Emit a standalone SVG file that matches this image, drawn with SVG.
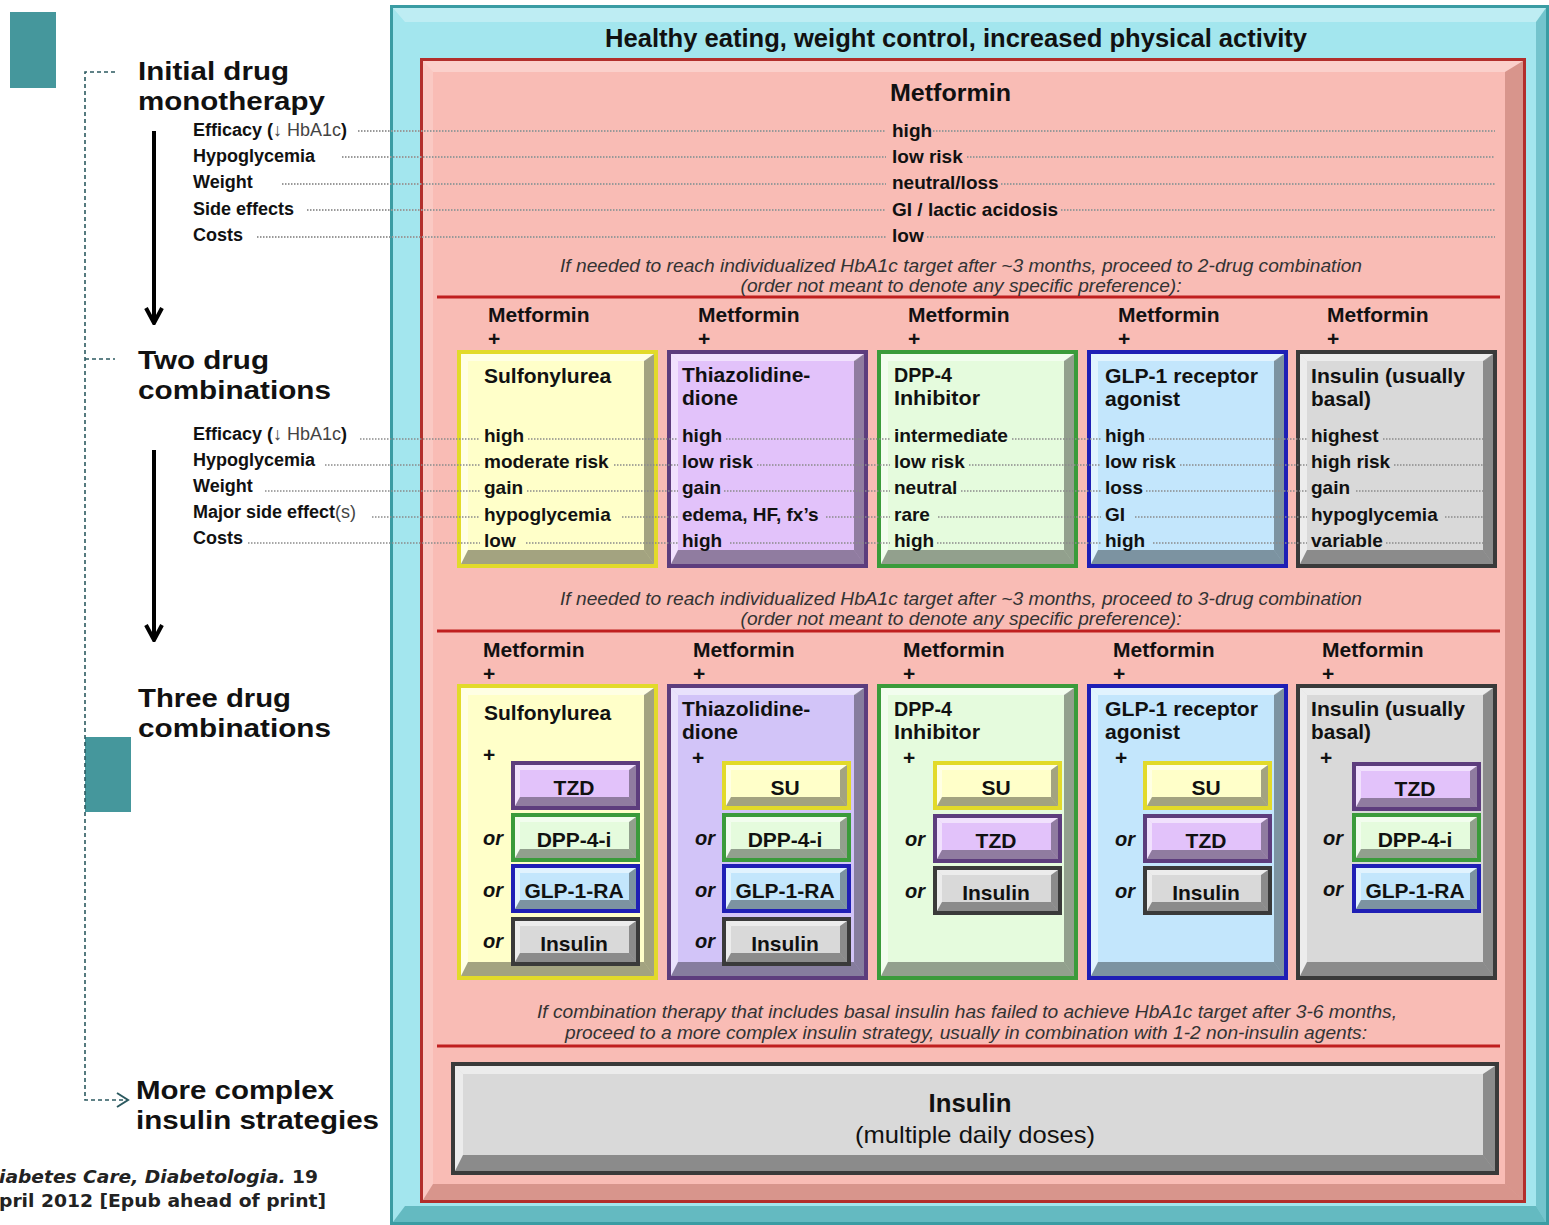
<svg xmlns="http://www.w3.org/2000/svg" width="1549" height="1225" viewBox="0 0 1549 1225">
<style>
.t{font-family:"Liberation Sans",Arial,sans-serif;fill:#111}
.h1{font-size:26px;font-weight:bold}
.lab{font-size:18px;font-weight:bold}
.lt{font-weight:normal;fill:#444}
.val{font-size:19px;font-weight:bold}
.met{font-size:21px;font-weight:bold}
.ttl{font-size:21px;font-weight:bold}
.note{font-size:19px;font-style:italic;fill:#333;text-anchor:middle}
.sub{font-size:21px;font-weight:bold;text-anchor:middle}
.or{font-size:20px;font-weight:bold;font-style:italic}
.box{stroke-width:4}
.cY{fill:#ffffc9;stroke:#e2da2a}
.cP{fill:#e2c2fa;stroke:#5d3d7d}
.cP3{fill:#d2c4f8;stroke:#5d3d7d}
.cG{fill:#e5fbdd;stroke:#3b9b3b}
.cB{fill:#c3e6fc;stroke:#1f1fb5}
.cK{fill:#d9d9d9;stroke:#3a3a3a}
.lite{fill:#fff;fill-opacity:.5}
.dark{fill:#000;fill-opacity:.36}
.dot{stroke:#8a8a8a;stroke-width:1.4;stroke-dasharray:1.5 1.5;fill:none}
.dotm{stroke:#999;stroke-width:1.8;stroke-dasharray:1.5 1.5;fill:none}
.sep{stroke:#c01f1f;stroke-width:3}
.dash{stroke:#2c5a60;stroke-width:1.6;stroke-dasharray:4 3;fill:none}
.blk{stroke:#000;stroke-width:4;fill:none}
</style>
<defs>
<marker id="ah" markerUnits="userSpaceOnUse" viewBox="-18 -11 20 22" refX="0" refY="0" markerWidth="20" markerHeight="22" orient="auto">
<path d="M-15,-8 L0,0 L-15,8" fill="none" stroke="#000" stroke-width="4"/>
</marker>
<marker id="ahd" markerUnits="userSpaceOnUse" viewBox="-14 -9 16 18" refX="0" refY="0" markerWidth="16" markerHeight="18" orient="auto">
<path d="M-11,-7 L0,0 L-11,7" fill="none" stroke="#2c5a60" stroke-width="2"/>
</marker>
<g id="bv2">
<polygon class="lite" points="2,2 195,2 187,9 9,9"/>
<polygon class="lite" points="2,2 9,9 9,198 2,212"/>
<polygon class="dark" points="195,2 195,212 185,198 185,9"/>
<polygon class="dark" points="2,212 195,212 185,198 9,198"/>
</g>
<g id="bv3">
<polygon class="lite" points="2,2 195,2 187,9 9,9"/>
<polygon class="lite" points="2,2 9,9 9,276 2,290"/>
<polygon class="dark" points="195,2 195,290 185,276 185,9"/>
<polygon class="dark" points="2,290 195,290 185,276 9,276"/>
</g>
<g id="bvs">
<polygon class="lite" points="2,2 123,2 116,7 7,7"/>
<polygon class="lite" points="2,2 7,7 7,34 2,43"/>
<polygon class="dark" points="123,2 123,43 116,34 116,7"/>
<polygon class="dark" points="2,43 123,43 116,34 7,34"/>
</g>
<g id="bvb">
<polygon class="lite" points="2,2 1042,2 1030,10 10,10"/>
<polygon class="lite" points="2,2 10,10 10,91 2,107"/>
<polygon class="dark" points="1042,2 1042,107 1030,91 1030,10"/>
<polygon class="dark" points="2,107 1042,107 1030,91 10,91"/>
</g>
</defs>

<rect width="1549" height="1225" fill="#fff"/>

<g id="side-markers">
<rect x="10" y="12" width="46" height="76" fill="#45979c"/>
<rect x="85" y="737" width="46" height="75" fill="#45979c"/>
</g>

<g id="background-panels">
<rect x="391.5" y="6.5" width="1156" height="1217" fill="#a3e6ee" stroke="#3a9ca3" stroke-width="3"/>
<polygon points="393,8 1546,8 1536,22 405,22" fill="#fff" fill-opacity=".3"/>
<polygon points="1546,8 1546,1222 1536,1206 1536,22" fill="#3a9ca3" fill-opacity=".45"/>
<polygon points="393,1222 1546,1222 1536,1206 405,1206" fill="#3a9ca3" fill-opacity=".6"/>
<rect x="421.5" y="59.5" width="1103" height="1142" fill="#f9bcb5" stroke="#b22f2c" stroke-width="3"/>
<polygon points="423,61 1523,61 1505,72 433,72" fill="#fff" fill-opacity=".3"/>
<polygon points="423,61 433,72 433,1184 423,1200" fill="#fff" fill-opacity=".2"/>
<polygon points="1523,61 1523,1200 1505,1184 1505,72" fill="#8a3a30" fill-opacity=".3"/>
<polygon points="423,1200 1523,1200 1505,1184 433,1184" fill="#8a3a30" fill-opacity=".3"/>
<text class="t" x="956" y="47" font-size="25" font-weight="bold" text-anchor="middle" textLength="702" lengthAdjust="spacingAndGlyphs">Healthy eating, weight control, increased physical activity</text>
<line class="sep" x1="437" y1="297" x2="1500" y2="297"/>
<line class="sep" x1="437" y1="631" x2="1500" y2="631"/>
<line class="sep" x1="437" y1="1046" x2="1500" y2="1046"/>
<text class="t note" x="961" y="272" textLength="802" lengthAdjust="spacingAndGlyphs">If needed to reach individualized HbA1c target after ~3 months, proceed to 2-drug combination</text>
<text class="t note" x="961" y="292" textLength="441" lengthAdjust="spacingAndGlyphs">(order not meant to denote any specific preference):</text>
<text class="t note" x="961" y="605" textLength="802" lengthAdjust="spacingAndGlyphs">If needed to reach individualized HbA1c target after ~3 months, proceed to 3-drug combination</text>
<text class="t note" x="961" y="625" textLength="441" lengthAdjust="spacingAndGlyphs">(order not meant to denote any specific preference):</text>
<text class="t note" x="967" y="1018" textLength="860" lengthAdjust="spacingAndGlyphs">If combination therapy that includes basal insulin has failed to achieve HbA1c target after 3-6 months,</text>
<text class="t note" x="966" y="1039" textLength="802" lengthAdjust="spacingAndGlyphs">proceed to a more complex insulin strategy, usually in combination with 1-2 non-insulin agents:</text>
</g>

<g id="connectors">
<path class="dash" d="M115,72 H85 V1100 H128" marker-end="url(#ahd)"/>
<line class="dash" x1="85" y1="359" x2="115" y2="359"/>
<line class="blk" x1="154" y1="131" x2="154" y2="323" marker-end="url(#ah)"/>
<line class="blk" x1="154" y1="450" x2="154" y2="640" marker-end="url(#ah)"/>
<path class="dotm" d="M358,131 H886 M933,131 H1495 M342,157 H886 M967,157 H1495 M282,184 H886 M1001,184 H1495 M307,210 H886 M1061,210 H1495 M257,237 H886 M927,237 H1495"/>
</g>

<g id="stage-labels">
<text class="t h1" x="138" y="80" textLength="151" lengthAdjust="spacingAndGlyphs">Initial drug</text>
<text class="t h1" x="138" y="110" textLength="187" lengthAdjust="spacingAndGlyphs">monotherapy</text>
<text class="t h1" x="138" y="369" textLength="131" lengthAdjust="spacingAndGlyphs">Two drug</text>
<text class="t h1" x="138" y="399" textLength="193" lengthAdjust="spacingAndGlyphs">combinations</text>
<text class="t h1" x="138" y="707" textLength="153" lengthAdjust="spacingAndGlyphs">Three drug</text>
<text class="t h1" x="138" y="737" textLength="193" lengthAdjust="spacingAndGlyphs">combinations</text>
<text class="t h1" x="136" y="1099" textLength="198" lengthAdjust="spacingAndGlyphs">More complex</text>
<text class="t h1" x="136" y="1129" textLength="243" lengthAdjust="spacingAndGlyphs">insulin strategies</text>
</g>

<g id="mono-criteria">
<text class="t lab" x="193" y="136">Efficacy (<tspan class="lt">↓ HbA1c</tspan>)</text>
<text class="t lab" x="193" y="162">Hypoglycemia</text>
<text class="t lab" x="193" y="188">Weight</text>
<text class="t lab" x="193" y="215">Side effects</text>
<text class="t lab" x="193" y="241">Costs</text>
</g>

<g id="metformin-mono">
<text class="t" x="890" y="101" font-size="24" font-weight="bold" textLength="121" lengthAdjust="spacingAndGlyphs">Metformin</text>
<text class="t val" x="892" y="137">high</text>
<text class="t val" x="892" y="163">low risk</text>
<text class="t val" x="892" y="189">neutral/loss</text>
<text class="t val" x="892" y="216" textLength="166" lengthAdjust="spacingAndGlyphs">GI / lactic acidosis</text>
<text class="t val" x="892" y="242">low</text>
</g>

<g id="two-drug-criteria">
<text class="t lab" x="193" y="440">Efficacy (<tspan class="lt">↓ HbA1c</tspan>)</text>
<text class="t lab" x="193" y="466">Hypoglycemia</text>
<text class="t lab" x="193" y="492">Weight</text>
<text class="t lab" x="193" y="518">Major side effect<tspan class="lt">(s)</tspan></text>
<text class="t lab" x="193" y="544">Costs</text>
</g>

<g id="two-drug-su">
<text class="t met" x="488" y="322">Metformin</text>
<text class="t met" x="488" y="346">+</text>
<rect class="box cY" x="459" y="352" width="197" height="214"/>
<use href="#bv2" x="459" y="352"/>
<text class="t ttl" x="484" y="383">Sulfonylurea</text>
<text class="t val" x="484" y="442">high</text>
<text class="t val" x="484" y="468">moderate risk</text>
<text class="t val" x="484" y="494">gain</text>
<text class="t val" x="484" y="521">hypoglycemia</text>
<text class="t val" x="484" y="547">low</text>
</g>

<g id="two-drug-tzd">
<text class="t met" x="698" y="322">Metformin</text>
<text class="t met" x="698" y="346">+</text>
<rect class="box cP" x="669" y="352" width="197" height="214"/>
<use href="#bv2" x="669" y="352"/>
<text class="t ttl" x="682" y="382">Thiazolidine-</text>
<text class="t ttl" x="682" y="405">dione</text>
<text class="t val" x="682" y="442">high</text>
<text class="t val" x="682" y="468">low risk</text>
<text class="t val" x="682" y="494">gain</text>
<text class="t val" x="682" y="521">edema, HF, fx’s</text>
<text class="t val" x="682" y="547">high</text>
</g>

<g id="two-drug-dpp4">
<text class="t met" x="908" y="322">Metformin</text>
<text class="t met" x="908" y="346">+</text>
<rect class="box cG" x="879" y="352" width="197" height="214"/>
<use href="#bv2" x="879" y="352"/>
<text class="t ttl" x="894" y="382" textLength="58" lengthAdjust="spacingAndGlyphs">DPP-4</text>
<text class="t ttl" x="894" y="405" textLength="86" lengthAdjust="spacingAndGlyphs">Inhibitor</text>
<text class="t val" x="894" y="442" textLength="114" lengthAdjust="spacingAndGlyphs">intermediate</text>
<text class="t val" x="894" y="468">low risk</text>
<text class="t val" x="894" y="494">neutral</text>
<text class="t val" x="894" y="521">rare</text>
<text class="t val" x="894" y="547">high</text>
</g>

<g id="two-drug-glp1">
<text class="t met" x="1118" y="322">Metformin</text>
<text class="t met" x="1118" y="346">+</text>
<rect class="box cB" x="1089" y="352" width="197" height="214"/>
<use href="#bv2" x="1089" y="352"/>
<text class="t ttl" x="1105" y="383" textLength="153" lengthAdjust="spacingAndGlyphs">GLP-1 receptor</text>
<text class="t ttl" x="1105" y="406" textLength="75" lengthAdjust="spacingAndGlyphs">agonist</text>
<text class="t val" x="1105" y="442">high</text>
<text class="t val" x="1105" y="468">low risk</text>
<text class="t val" x="1105" y="494">loss</text>
<text class="t val" x="1105" y="521">GI</text>
<text class="t val" x="1105" y="547">high</text>
</g>

<g id="two-drug-insulin">
<text class="t met" x="1327" y="322">Metformin</text>
<text class="t met" x="1327" y="346">+</text>
<rect class="box cK" x="1298" y="352" width="197" height="214"/>
<use href="#bv2" x="1298" y="352"/>
<text class="t ttl" x="1311" y="383" textLength="154" lengthAdjust="spacingAndGlyphs">Insulin (usually</text>
<text class="t ttl" x="1311" y="406" textLength="60" lengthAdjust="spacingAndGlyphs">basal)</text>
<text class="t val" x="1311" y="442">highest</text>
<text class="t val" x="1311" y="468">high risk</text>
<text class="t val" x="1311" y="494">gain</text>
<text class="t val" x="1311" y="521">hypoglycemia</text>
<text class="t val" x="1311" y="547">variable</text>
</g>

<g id="two-drug-leaders">
<path class="dot" d="M360,439 H480 M528,439 H678 M726,439 H890 M1012,439 H1101 M1149,439 H1307 M1383,439 H1490 M325,465 H480 M614,465 H678 M757,465 H890 M969,465 H1101 M1180,465 H1307 M1394,465 H1490 M265,491 H480 M527,491 H678 M724,491 H890 M961,491 H1101 M1146,491 H1307 M1356,491 H1490 M372,517 H480 M622,517 H678 M826,517 H890 M938,517 H1101 M1135,517 H1307 M1445,517 H1490 M248,543 H480 M526,543 H678 M730,543 H890 M937,543 H1101 M1153,543 H1307 M1386,543 H1490"/>
</g>

<g id="three-drug-su">
<text class="t met" x="483" y="657">Metformin</text>
<text class="t met" x="483" y="681">+</text>
<rect class="box cY" x="459" y="686" width="197" height="292"/>
<use href="#bv3" x="459" y="686"/>
<text class="t ttl" x="484" y="720">Sulfonylurea</text>
<text class="t met" x="483" y="762">+</text>
<rect class="box cP" x="513" y="763" width="125" height="45"/><use href="#bvs" x="513" y="763"/>
<text class="t sub" x="574" y="795">TZD</text>
<rect class="box cG" x="513" y="815" width="125" height="45"/><use href="#bvs" x="513" y="815"/>
<text class="t sub" x="574" y="847">DPP-4-i</text>
<rect class="box cB" x="513" y="866" width="125" height="45"/><use href="#bvs" x="513" y="866"/>
<text class="t sub" x="574" y="898">GLP-1-RA</text>
<rect class="box cK" x="513" y="919" width="125" height="45"/><use href="#bvs" x="513" y="919"/>
<text class="t sub" x="574" y="951">Insulin</text>
<text class="t or" x="483" y="845">or</text>
<text class="t or" x="483" y="897">or</text>
<text class="t or" x="483" y="948">or</text>
</g>

<g id="three-drug-tzd">
<text class="t met" x="693" y="657">Metformin</text>
<text class="t met" x="693" y="681">+</text>
<rect class="box cP3" x="669" y="686" width="197" height="292"/>
<use href="#bv3" x="669" y="686"/>
<text class="t ttl" x="682" y="716">Thiazolidine-</text>
<text class="t ttl" x="682" y="739">dione</text>
<text class="t met" x="692" y="765">+</text>
<rect class="box cY" x="724" y="763" width="125" height="45"/><use href="#bvs" x="724" y="763"/>
<text class="t sub" x="785" y="795">SU</text>
<rect class="box cG" x="724" y="815" width="125" height="45"/><use href="#bvs" x="724" y="815"/>
<text class="t sub" x="785" y="847">DPP-4-i</text>
<rect class="box cB" x="724" y="866" width="125" height="45"/><use href="#bvs" x="724" y="866"/>
<text class="t sub" x="785" y="898">GLP-1-RA</text>
<rect class="box cK" x="724" y="919" width="125" height="45"/><use href="#bvs" x="724" y="919"/>
<text class="t sub" x="785" y="951">Insulin</text>
<text class="t or" x="695" y="845">or</text>
<text class="t or" x="695" y="897">or</text>
<text class="t or" x="695" y="948">or</text>
</g>

<g id="three-drug-dpp4">
<text class="t met" x="903" y="657">Metformin</text>
<text class="t met" x="903" y="681">+</text>
<rect class="box cG" x="879" y="686" width="197" height="292"/>
<use href="#bv3" x="879" y="686"/>
<text class="t ttl" x="894" y="716" textLength="58" lengthAdjust="spacingAndGlyphs">DPP-4</text>
<text class="t ttl" x="894" y="739" textLength="86" lengthAdjust="spacingAndGlyphs">Inhibitor</text>
<text class="t met" x="903" y="765">+</text>
<rect class="box cY" x="935" y="763" width="125" height="45"/><use href="#bvs" x="935" y="763"/>
<text class="t sub" x="996" y="795">SU</text>
<rect class="box cP" x="935" y="816" width="125" height="45"/><use href="#bvs" x="935" y="816"/>
<text class="t sub" x="996" y="848">TZD</text>
<rect class="box cK" x="935" y="868" width="125" height="45"/><use href="#bvs" x="935" y="868"/>
<text class="t sub" x="996" y="900">Insulin</text>
<text class="t or" x="905" y="846">or</text>
<text class="t or" x="905" y="898">or</text>
</g>

<g id="three-drug-glp1">
<text class="t met" x="1113" y="657">Metformin</text>
<text class="t met" x="1113" y="681">+</text>
<rect class="box cB" x="1089" y="686" width="197" height="292"/>
<use href="#bv3" x="1089" y="686"/>
<text class="t ttl" x="1105" y="716" textLength="153" lengthAdjust="spacingAndGlyphs">GLP-1 receptor</text>
<text class="t ttl" x="1105" y="739" textLength="75" lengthAdjust="spacingAndGlyphs">agonist</text>
<text class="t met" x="1115" y="765">+</text>
<rect class="box cY" x="1145" y="763" width="125" height="45"/><use href="#bvs" x="1145" y="763"/>
<text class="t sub" x="1206" y="795">SU</text>
<rect class="box cP" x="1145" y="816" width="125" height="45"/><use href="#bvs" x="1145" y="816"/>
<text class="t sub" x="1206" y="848">TZD</text>
<rect class="box cK" x="1145" y="868" width="125" height="45"/><use href="#bvs" x="1145" y="868"/>
<text class="t sub" x="1206" y="900">Insulin</text>
<text class="t or" x="1115" y="846">or</text>
<text class="t or" x="1115" y="898">or</text>
</g>

<g id="three-drug-insulin">
<text class="t met" x="1322" y="657">Metformin</text>
<text class="t met" x="1322" y="681">+</text>
<rect class="box cK" x="1298" y="686" width="197" height="292"/>
<use href="#bv3" x="1298" y="686"/>
<text class="t ttl" x="1311" y="716" textLength="154" lengthAdjust="spacingAndGlyphs">Insulin (usually</text>
<text class="t ttl" x="1311" y="739" textLength="60" lengthAdjust="spacingAndGlyphs">basal)</text>
<text class="t met" x="1320" y="765">+</text>
<rect class="box cP" x="1354" y="764" width="125" height="45"/><use href="#bvs" x="1354" y="764"/>
<text class="t sub" x="1415" y="796">TZD</text>
<rect class="box cG" x="1354" y="815" width="125" height="45"/><use href="#bvs" x="1354" y="815"/>
<text class="t sub" x="1415" y="847">DPP-4-i</text>
<rect class="box cB" x="1354" y="866" width="125" height="45"/><use href="#bvs" x="1354" y="866"/>
<text class="t sub" x="1415" y="898">GLP-1-RA</text>
<text class="t or" x="1323" y="845">or</text>
<text class="t or" x="1323" y="896">or</text>
</g>

<g id="insulin-mdi">
<rect class="box cK" x="453" y="1064" width="1044" height="109"/>
<use href="#bvb" x="453" y="1064"/>
<text class="t" x="970" y="1112" font-size="25" font-weight="bold" text-anchor="middle" textLength="83" lengthAdjust="spacingAndGlyphs">Insulin</text>
<text class="t" x="975" y="1143" font-size="24" text-anchor="middle" textLength="240" lengthAdjust="spacingAndGlyphs">(multiple daily doses)</text>
</g>

<g id="citation">
<text x="-1" y="1183" font-family="'DejaVu Sans',Verdana,sans-serif" font-size="17" font-weight="bold" fill="#222" textLength="319" lengthAdjust="spacingAndGlyphs"><tspan font-style="italic">iabetes Care, Diabetologia.</tspan> 19</text>
<text x="-1" y="1207" font-family="'DejaVu Sans',Verdana,sans-serif" font-size="17" font-weight="bold" fill="#222" textLength="327" lengthAdjust="spacingAndGlyphs">pril 2012 [Epub ahead of print]</text>
</g>
</svg>
